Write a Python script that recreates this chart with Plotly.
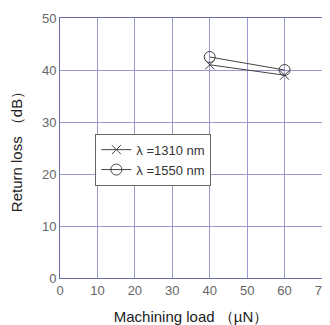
import plotly.graph_objects as go

load = [40, 60]
rl_1310 = [41, 39]
rl_1550 = [42.5, 40]
names = ["λ =1310 nm", "λ =1550 nm"]
x_ticks = [0, 10, 20, 30, 40, 50, 60, 70]
y_ticks = [0, 10, 20, 30, 40, 50]

fig = go.Figure()
fig.add_trace(go.Scatter(x=load, y=rl_1310, name=names[0], mode="lines+markers",
                         line=dict(color="#444444", width=1),
                         marker=dict(symbol="x-thin", size=9, color="#444444",
                                     line=dict(color="#444444", width=1))))
fig.add_trace(go.Scatter(x=load, y=rl_1550, name=names[1], mode="lines+markers",
                         line=dict(color="#444444", width=1),
                         marker=dict(symbol="circle-open", size=11, color="#444444",
                                     line=dict(color="#444444", width=1))))

axis_common = dict(showgrid=True, gridcolor="#9a9ad0", gridwidth=1,
                   showline=True, linecolor="#6a6aa8", linewidth=1, mirror=True,
                   zeroline=False, ticks="", automargin=False,
                   tickfont=dict(family="Liberation Sans", size=13, color="#666666"))

# The page body has an 8px margin, so the figure is sized to fit the 330x325 window
fig.update_layout(
    width=322, height=317,
    margin=dict(l=52, r=8, t=10, b=47),
    paper_bgcolor="white", plot_bgcolor="white",
    showlegend=True,
    legend=dict(x=0.135, y=0.555, xanchor="left", yanchor="top",
                bgcolor="white", bordercolor="#666666", borderwidth=1,
                font=dict(family="Liberation Sans", size=13, color="#333333"),
                tracegroupgap=0, itemwidth=30),
    xaxis=dict(range=[0, 70], tickvals=x_ticks,
               title=dict(text="Machining load （µN）", font=dict(family="Liberation Sans", size=15, color="#222222"), standoff=14),
               **axis_common),
    yaxis=dict(range=[0, 50], tickvals=y_ticks,
               title=dict(text="Return loss （dB）", font=dict(family="Liberation Sans", size=15, color="#222222"), standoff=18),
               **axis_common),
)
fig.write_html("out.html")
